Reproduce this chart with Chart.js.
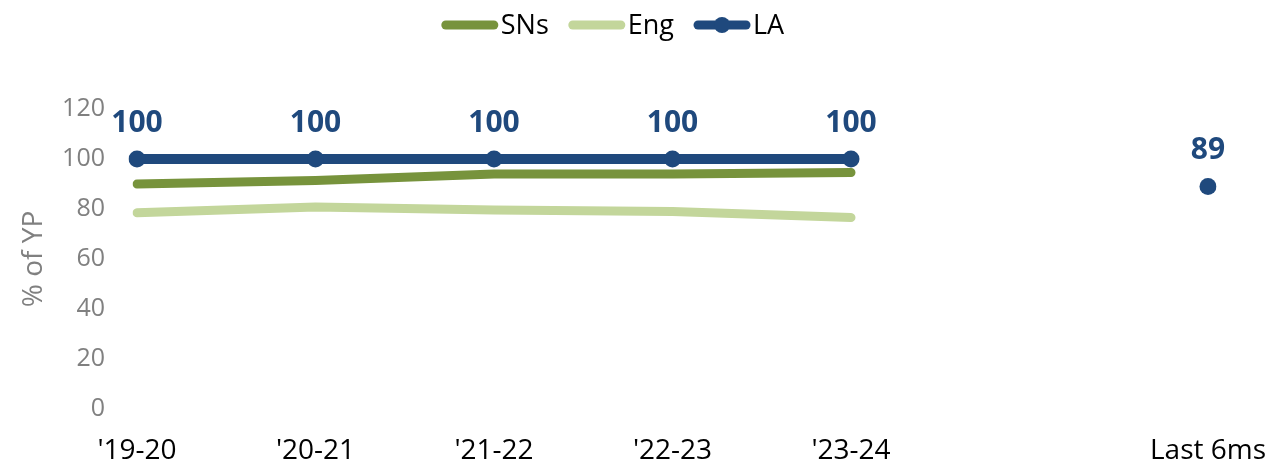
<!DOCTYPE html>
<html>
<head>
<meta charset="utf-8">
<script src="https://cdn.jsdelivr.net/npm/chart.js@4"></script>
<style>
  html, body { margin: 0; padding: 0; background: #fff; }
  #wrap { width: 1268px; height: 469px; }
</style>
</head>
<body>
<div id="wrap"><canvas id="chart" width="1268" height="469"></canvas></div>
<script>
const categories = ["'19-20", "'20-21", "'21-22", "'22-23", "'23-24", "", "Last 6ms"];
const snsValues = [90, 91.4, 94, 94, 94.6, null, null];
const engValues = [78.5, 80.8, 79.6, 79, 76.6, null, null];
const laValues = [100, 100, 100, 100, 100, null, 89];
const yTicks = [0, 20, 40, 60, 80, 100, 120];

const FONT = "'Open Sans', 'Noto Sans', sans-serif";
const colors = { sns: "#77933C", eng: "#C3D69B", la: "#1F497D" };

// labels above LA points
const laLabels = {
  id: "laLabels",
  afterDatasetsDraw(chart) {
    const ctx = chart.ctx;
    const meta = chart.getDatasetMeta(2);
    ctx.save();
    ctx.font = "bold 30px " + FONT;
    ctx.fillStyle = colors.la;
    ctx.textAlign = "center";
    ctx.textBaseline = "middle";
    meta.data.forEach((pt, i) => {
      if (laValues[i] == null) return;
      ctx.fillText(String(laValues[i]), pt.x, pt.y - 36);
    });
    ctx.restore();
  }
};

// legend drawn on the canvas
const topLegend = {
  id: "topLegend",
  afterDraw(chart) {
    const ctx = chart.ctx;
    const items = [
      { text: "SNs", color: colors.sns, dot: false },
      { text: "Eng", color: colors.eng, dot: false },
      { text: "LA", color: colors.la, dot: true }
    ];
    ctx.save();
    ctx.font = "27px " + FONT;
    const lineLen = 56, gap = 3, itemGap = 20;
    let total = 0;
    items.forEach((it, i) => {
      it.w = ctx.measureText(it.text).width;
      total += lineLen + gap + it.w + (i < items.length - 1 ? itemGap : 0);
    });
    let x = 613 - total / 2;
    const y = 25;
    items.forEach(it => {
      ctx.strokeStyle = it.color;
      ctx.lineWidth = 9;
      ctx.lineCap = "round";
      ctx.beginPath();
      ctx.moveTo(x + 4, y);
      ctx.lineTo(x + lineLen - 4, y);
      ctx.stroke();
      if (it.dot) {
        ctx.fillStyle = it.color;
        ctx.beginPath();
        ctx.arc(x + lineLen / 2, y, 8, 0, Math.PI * 2);
        ctx.fill();
      }
      ctx.fillStyle = "#000";
      ctx.textBaseline = "middle";
      ctx.textAlign = "left";
      ctx.fillText(it.text, x + lineLen + gap, y + 1);
      x += lineLen + gap + it.w + itemGap;
    });
    ctx.restore();
  }
};

new Chart(document.getElementById("chart"), {
  type: "line",
  data: {
    labels: categories,
    datasets: [
      {
        label: "SNs",
        data: snsValues,
        borderColor: colors.sns,
        backgroundColor: colors.sns,
        borderWidth: 9,
        borderCapStyle: "round",
        pointRadius: 0,
        order: 2
      },
      {
        label: "Eng",
        data: engValues,
        borderColor: colors.eng,
        backgroundColor: colors.eng,
        borderWidth: 9,
        borderCapStyle: "round",
        pointRadius: 0,
        order: 3
      },
      {
        label: "LA",
        data: laValues,
        borderColor: colors.la,
        backgroundColor: colors.la,
        borderWidth: 10,
        borderCapStyle: "round",
        pointRadius: 8.5,
        pointBorderWidth: 0,
        pointHoverRadius: 8.5,
        order: 1
      }
    ]
  },
  options: {
    responsive: false,
    animation: false,
    spanGaps: false,
    layout: { padding: { top: 109, right: 60, left: 0, bottom: 0 } },
    plugins: {
      legend: { display: false },
      tooltip: { enabled: false }
    },
    scales: {
      x: {
        offset: false,
        grid: { display: false, drawTicks: false },
        border: { display: false },
        ticks: {
          color: "#000",
          font: { family: FONT, size: 28 },
          padding: 25,
          maxRotation: 0,
          autoSkip: false
        },
        afterFit: s => {
          s.height = 60;
          s.paddingLeft = 0;
          s.paddingRight = 0;
        }
      },
      y: {
        min: 0,
        max: 120,
        afterBuildTicks: s => { s.ticks = yTicks.map(v => ({ value: v })); },
        grid: { display: false, drawTicks: false },
        border: { display: false },
        ticks: {
          color: "#808080",
          font: { family: FONT, size: 25 },
          padding: 32
        },
        title: {
          display: true,
          text: "% of YP",
          color: "#808080",
          font: { family: FONT, size: 28 },
          padding: { top: 17, bottom: 0 }
        },
        afterFit: s => {
          s.width = 137;
          s.paddingTop = 0;
          s.paddingBottom = 0;
        }
      }
    }
  },
  plugins: [laLabels, topLegend]
});
</script>
</body>
</html>
